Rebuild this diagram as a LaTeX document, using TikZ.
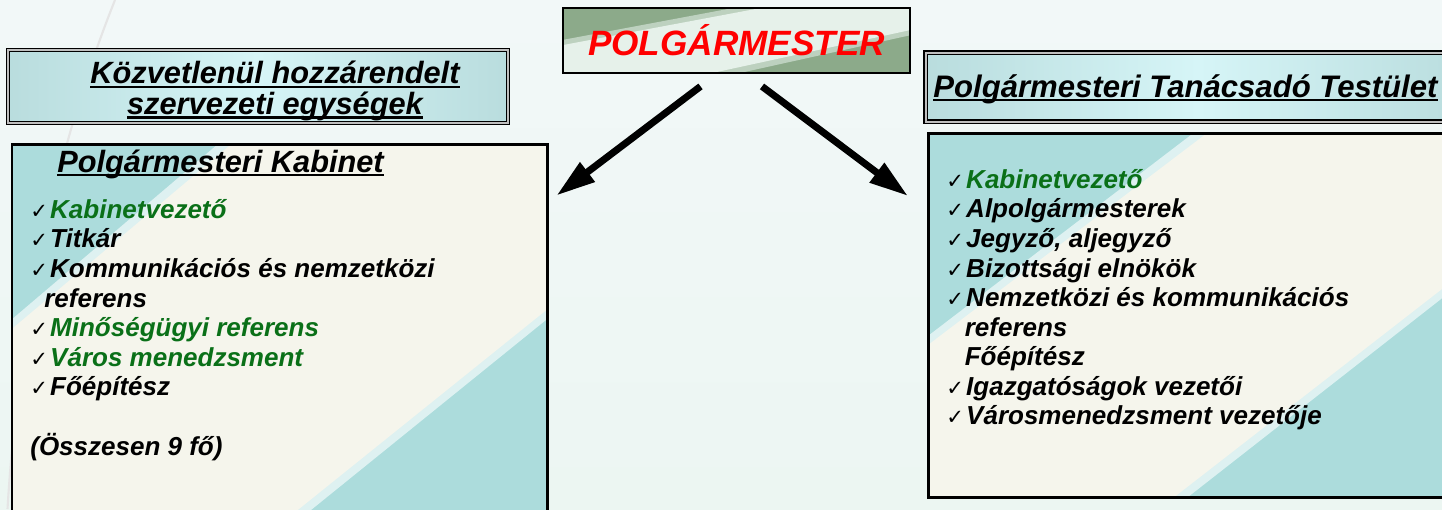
\documentclass[tikz,border=0pt]{standalone}
\usepackage{fontspec}
\setmainfont{Liberation Sans}
\newfontfamily\symfont{DejaVu Sans}
\usepackage{tikz}
\usetikzlibrary{arrows.meta, positioning, calc}
\definecolor{myred}{RGB}{255,0,0}
\definecolor{mygreen}{RGB}{10,112,24}
\definecolor{myteal}{RGB}{156,196,196}
\definecolor{mylight}{RGB}{214,245,247}
\definecolor{mysage}{RGB}{140,170,138}
\definecolor{mypale}{RGB}{230,241,234}
\definecolor{mycyan}{RGB}{172,220,220}
\definecolor{mycream}{RGB}{245,245,236}
\definecolor{bgtop}{RGB}{242,248,248}
\definecolor{bgbot}{RGB}{236,246,242}
% header gradient
\pgfdeclarehorizontalshading{hdrshade}{100bp}{color(0bp)=(myteal); color(50bp)=(mylight); color(100bp)=(myteal)}
% underline sitting just under the baseline
\newcommand\alahuz[1]{\leavevmode\setbox0\hbox{#1}\rlap{\rule[-2.3pt]{\wd0}{1.2pt}}\box0}
% tick in front of each item
\newcommand\pipa{\makebox[11.3pt][l]{\symfont\fontsize{12}{12}\selectfont ✓}}
\tikzset{
  % light diagonal band: colour, top, right, bottom, left cut fractions,
  % blend colour and blend width
  sav/.style n args={7}{path picture={
    \coordinate (pbl) at (path picture bounding box.south west);
    \coordinate (ptr) at (path picture bounding box.north east);
    \coordinate (ptl) at (pbl |- ptr);
    \coordinate (pbr) at (ptr |- pbl);
    \fill[#6] ($(ptl)!{#2-#7}!(ptr)$) -- (ptr) -- ($(ptr)!{#3+#7}!(pbr)$)
      -- ($(pbl)!{#4+#7}!(pbr)$) -- (pbl) -- ($(ptl)!{#5-#7}!(pbl)$) -- cycle;
    \fill[#1] ($(ptl)!#2!(ptr)$) -- (ptr) -- ($(ptr)!#3!(pbr)$)
      -- ($(pbl)!#4!(pbr)$) -- (pbl) -- ($(ptl)!#5!(pbl)$) -- cycle;
  }},
  mayorbox/.style={rectangle, draw=black, line width=1.6pt,
    fill=mysage, sav={mypale}{0.57}{0.34}{0.43}{0.57}{mysage!45!mypale}{0.08},
    minimum width=6.94cm, minimum height=1.3cm, inner sep=0pt,
    font=\bfseries\itshape\fontsize{20}{22}\selectfont, text=myred},
  hdrbox/.style={rectangle, draw=black, line width=0.8pt,
    double=gray!50, double distance=1.2pt,
    shade, shading=hdrshade, inner sep=0pt},
  hdrtext/.style={font=\bfseries\itshape\fontsize{17.5}{17.6}\selectfont,
    align=center, inner sep=0pt},
  listbox/.style={rectangle, draw=black, line width=1.7pt,
    fill=mycyan, inner sep=0pt},
  lista/.style={font=\bfseries\itshape\fontsize{14.8}{16.8}\selectfont,
    align=left, inner sep=0pt, anchor=north west},
  nyil/.style={-{Triangle[length=0.78cm, width=0.46cm]}, line width=4pt, color=black}
}

\begin{document}
\begin{tikzpicture}
  % Canvas
  \useasboundingbox (0,0) rectangle (28.84,-10.18);
  \shade[top color=bgtop, bottom color=bgbot] (0,0) rectangle (28.84,-10.18);
  \draw[gray!20, line width=1.2pt] (2.3,0) .. controls (1.3,-2.5) and (0.4,-6) .. (0.15,-10.18);

  % Mayor on top
  \node[mayorbox] (polgarmester) at (14.73,-0.81) {POLGÁRMESTER};

  % Left branch: header and cabinet list
  \node[hdrbox, minimum width=10cm, minimum height=1.46cm] (kozvetlen) at (5.16,-1.73) {};
  \node[hdrtext] (kozvetlen-cim) at (5.5,-1.82)
    {\alahuz{Közvetlenül hozzárendelt}\\\alahuz{szervezeti egységek}};

  \node[listbox, sav={mycream}{0.41}{0.43}{0.49}{0.48}{mycyan!40!white}{0.025},
    minimum width=10.7cm, minimum height=7.7cm] (kabinet) at (5.59,-6.73) {};
  \node[hdrtext, anchor=base west] (kabinet-cim) at (1.14,-3.44) {\alahuz{Polgármesteri Kabinet}};
  \node[lista] (kabinet-lista) at (0.6,-3.98) {%
    \pipa{\color{mygreen}Kabinetvezető}\\
    \pipa Titkár\\
    \pipa Kommunikációs és nemzetközi\\
    \hspace*{0.28cm}referens\\
    \pipa{\color{mygreen}Minőségügyi referens}\\
    \pipa{\color{mygreen}Város menedzsment}\\
    \pipa Főépítész\\[17.5pt]
    (Összesen 9 fő)};

  % Right branch: advisory board
  \node[hdrbox, minimum width=10.9cm, minimum height=1.38cm, anchor=north west] (testulet) at (18.5,-1.04) {};
  \node[hdrtext, font=\bfseries\itshape\fontsize{17.7}{18}\selectfont, anchor=base west] (testulet-cim) at (18.66,-1.94)
    {\alahuz{Polgármesteri Tanácsadó Testület}};

  \node[listbox, sav={mycream}{0.51}{0.36}{0.45}{0.58}{mycyan!40!white}{0.025},
    minimum width=10.9cm, minimum height=7.28cm, anchor=north west] (tanacs) at (18.54,-2.64) {};
  \node[lista] (tanacs-lista) at (18.92,-3.38) {%
    \pipa{\color{mygreen}Kabinetvezető}\\
    \pipa Alpolgármesterek\\
    \pipa Jegyző, aljegyző\\
    \pipa Bizottsági elnökök\\
    \pipa Nemzetközi és kommunikációs\\
    \hspace*{10.5pt}referens\\
    \hspace*{10.5pt}Főépítész\\
    \pipa Igazgatóságok vezetői\\
    \pipa Városmenedzsment vezetője};

  % Arrows from the mayor
  \draw[nyil] ($(polgarmester.south)+(-0.72,-0.24)$) -- ($(kabinet.north east)+(0.16,-1.06)$);
  \draw[nyil] ($(polgarmester.south)+(0.51,-0.24)$) -- ($(tanacs.north west)+(-0.38,-1.28)$);
\end{tikzpicture}
\end{document}
